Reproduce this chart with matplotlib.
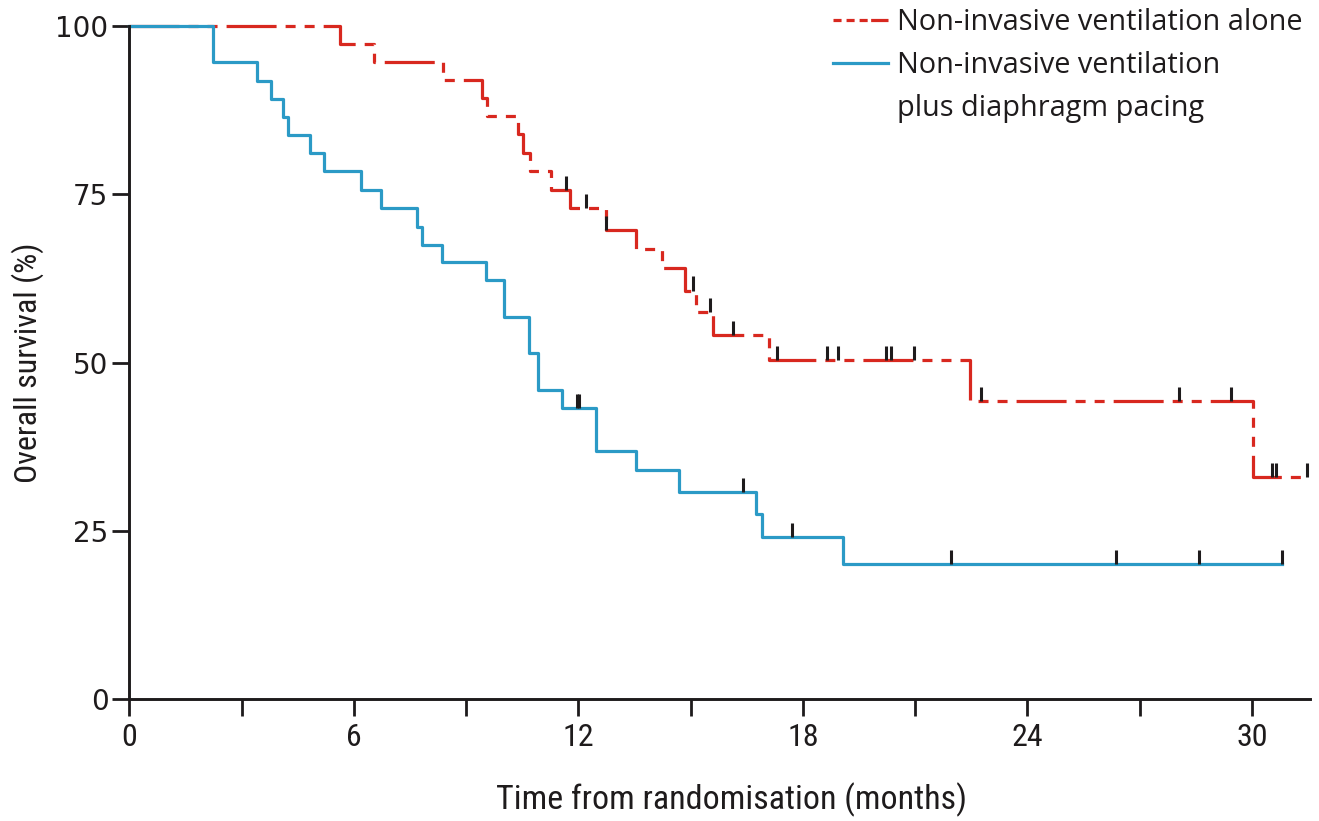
import numpy as np
import matplotlib
matplotlib.use("Agg")
import matplotlib.pyplot as plt
from matplotlib import font_manager
from matplotlib.lines import Line2D

# Kaplan-Meier steps read as (month of event, survival % after the event)
nivalone_times = [5.63, 6.55, 8.37, 9.42, 9.57, 10.40, 10.52, 10.71, 11.27, 11.77,
                  12.73, 13.54, 14.24, 14.85, 15.14, 15.60, 17.10, 22.46, 30.03]
nivalone_surv = [97.4, 94.7, 92.0, 89.3, 86.6, 83.9, 81.1, 78.4, 75.6, 72.9,
                 69.7, 66.8, 64.0, 60.7, 57.5, 54.1, 50.4, 44.3, 33.0]
nivalone_end = 31.48
nivalone_censor = [11.68, 12.20, 12.73, 15.07, 15.52, 16.14, 17.32, 18.64, 18.93,
                   20.22, 20.35, 20.97, 22.75, 28.05, 29.45, 30.53, 30.65, 31.48]

pacing_times = [2.23, 3.40, 3.78, 4.12, 4.23, 4.83, 5.20, 6.20, 6.72, 7.69, 7.81,
                8.35, 9.53, 10.02, 10.67, 10.92, 11.57, 12.48, 13.54, 14.69,
                16.74, 16.92, 19.08]
pacing_surv = [94.6, 91.9, 89.2, 86.5, 83.8, 81.1, 78.4, 75.7, 73.0, 70.2, 67.5,
               64.9, 62.2, 56.8, 51.4, 45.9, 43.2, 36.9, 34.0, 30.8,
               27.5, 24.0, 20.0]
pacing_end = 30.80
pacing_censor = [11.97, 12.03, 16.39, 17.72, 21.96, 26.37, 28.59, 30.80]

x_ticks = [0, 3, 6, 9, 12, 15, 18, 21, 24, 27, 30]
x_ticklabels = ["0", "", "6", "", "12", "", "18", "", "24", "", "30"]
y_ticks = [0, 25, 50, 75, 100]

label_alone = "Non-invasive ventilation alone"
label_pacing = "Non-invasive ventilation"
label_pacing2 = "plus diaphragm pacing"

RED = "#d8281f"
BLUE = "#2b9ac6"
INK = "#1e1b1c"


def pick_font(candidates):
    for name in candidates:
        try:
            font_manager.findfont(font_manager.FontProperties(family=name),
                                  fallback_to_default=False)
            return name
        except ValueError:
            continue
    return "DejaVu Sans"


narrow = pick_font(["Liberation Sans Narrow", "DejaVu Sans Condensed", "Roboto Condensed", "Liberation Sans"])
legend_font = pick_font(["Open Sans", "Noto Sans", "DejaVu Sans"])

plt.rcParams["lines.scale_dashes"] = False


def km_curve(times, surv, end):
    x = np.r_[0.0, times, end]
    y = np.r_[100.0, surv, surv[-1]]
    return x, y


def level_at(times, surv, t):
    idx = np.searchsorted(times, t, side="right") - 1
    levels = np.r_[100.0, surv]
    return levels[idx + 1]


fig = plt.figure(figsize=(13.19, 8.21), dpi=100)
ax = fig.add_axes([0.098, 0.1486, 0.8952, 0.8197])

# non-invasive ventilation alone (dashed red)
xr, yr = km_curve(nivalone_times, nivalone_surv, nivalone_end)
ax.step(xr, yr, where="post", color=RED, lw=2.3, clip_on=False,
        dashes=(36, 6.5, 7.2, 6.5, 7.2, 6.5), solid_capstyle="butt")

# with diaphragm pacing (solid blue), drawn on top
xb, yb = km_curve(pacing_times, pacing_surv, pacing_end)
ax.step(xb, yb, where="post", color=BLUE, lw=2.3, clip_on=False)

# censoring ticks sit on top of each curve
mark_h = 2.1
for times, surv, cens in [(nivalone_times, nivalone_surv, nivalone_censor),
                          (pacing_times, pacing_surv, pacing_censor)]:
    cens = np.array(cens)
    lv = level_at(np.array(times), np.array(surv), cens)
    ax.vlines(cens, lv, lv + mark_h, color=INK, lw=2.2, zorder=5, clip_on=False)

ax.set_xlim(0, 31.55)
ax.set_ylim(0, 100)
ax.set_xticks(x_ticks)
ax.set_xticklabels(x_ticklabels, fontfamily=narrow, fontsize=23, color=INK)
ax.set_yticks(y_ticks)
ax.set_yticklabels([str(v) for v in y_ticks], fontfamily="DejaVu Sans", fontsize=20, color=INK)
ax.tick_params(axis="x", length=12, width=2, pad=5, color=INK)
ax.tick_params(axis="y", length=12, width=2, pad=3, color=INK)

for side in ["top", "right"]:
    ax.spines[side].set_visible(False)
for side in ["left", "bottom"]:
    ax.spines[side].set_linewidth(2.1)
    ax.spines[side].set_color(INK)

ax.set_xlabel("Time from randomisation (months)", fontfamily=narrow, fontsize=24.5,
              color=INK)
ax.xaxis.set_label_coords(0.51, -0.124)
ax.set_ylabel("Overall survival (%)", fontfamily=narrow, fontsize=23, color=INK,
              labelpad=8)

handles = [
    Line2D([], [], color=RED, lw=2.3, dashes=(5.8, 3.6, 5.8, 3.6, 5.8, 2.5, 13, 0)),
    Line2D([], [], color=BLUE, lw=2.3),
    Line2D([], [], color="none", lw=0),
]
leg = fig.legend(handles, [label_alone, label_pacing, label_pacing2],
                 loc="upper left", bbox_to_anchor=(833 / 1319, 1 - 8 / 821),
                 frameon=False, borderpad=0, borderaxespad=0,
                 handlelength=1.9, handletextpad=0.3, labelspacing=0.48,
                 prop={"family": legend_font, "size": 20.8})
for t in leg.get_texts():
    t.set_color(INK)

fig.savefig("out.png", dpi=100)
